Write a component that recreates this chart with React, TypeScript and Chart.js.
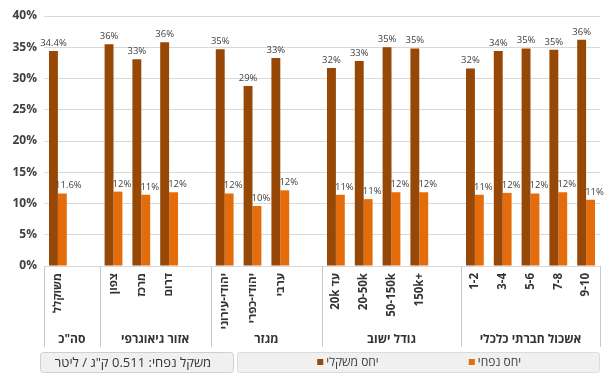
import React, { useEffect, useRef } from "react";
import { Chart, registerables } from "chart.js";

Chart.register(...registerables);

const categories = [
  "משוקלל", "",
  "צפון", "מרכז", "דרום", "",
  "יהודי-עירוני", "יהודי-כפרי", "ערבי", "",
  "20k עד", "20-50k", "50-150k", "150k+", "",
  "1-2", "3-4", "5-6", "7-8", "9-10",
];
const groupLabels = ['סה"כ', "אזור גיאוגרפי", "מגזר", "גודל ישוב", "אשכול חברתי כלכלי"];
const groupSizes = [2, 4, 4, 5, 5];

const seriesNames = ["יחס משקלי", "יחס נפחי"];
const weightRatio = [34.4, null, 35.5, 33.1, 35.8, null, 34.7, 28.8, 33.3, null, 31.7, 32.8, 35.0, 34.8, null, 31.6, 34.4, 34.8, 34.6, 36.2];
const volumeRatio = [11.6, null, 11.9, 11.4, 11.8, null, 11.6, 9.6, 12.1, null, 11.4, 10.7, 11.8, 11.8, null, 11.4, 11.7, 11.6, 11.8, 10.6];

const yMin = 0;
const yMax = 40;
const yStep = 5;
const noteText = 'משקל נפחי: 0.511 ק"ג / ליטר';

const DARK = "#974706";
const ORANGE = "#E46C0A";
const FONT = "'Open Sans', 'DejaVu Sans', sans-serif";

function roundRect(ctx: CanvasRenderingContext2D, x: number, y: number, w: number, h: number, r: number) {
  ctx.beginPath();
  ctx.moveTo(x + r, y);
  ctx.lineTo(x + w - r, y);
  ctx.quadraticCurveTo(x + w, y, x + w, y + r);
  ctx.lineTo(x + w, y + h - r);
  ctx.quadraticCurveTo(x + w, y + h, x + w - r, y + h);
  ctx.lineTo(x + r, y + h);
  ctx.quadraticCurveTo(x, y + h, x, y + h - r);
  ctx.lineTo(x, y + r);
  ctx.quadraticCurveTo(x, y, x + r, y);
  ctx.closePath();
}

const barLabels = {
  id: "barLabels",
  afterDatasetsDraw(chart: any) {
    const ctx = chart.ctx as CanvasRenderingContext2D;
    ctx.save();
    ctx.font = `9.5px ${FONT}`;
    ctx.fillStyle = "#404040";
    ctx.textAlign = "center";
    ctx.textBaseline = "bottom";
    chart.data.datasets.forEach((ds: any, di: number) => {
      const meta = chart.getDatasetMeta(di);
      meta.data.forEach((el: any, i: number) => {
        const v = ds.data[i];
        if (v == null) return;
        const txt = v.toFixed(i === 0 ? 1 : 0) + "%";
        const shift = di === 1 ? (i === 0 ? 6 : 4) : 0;
        ctx.fillText(txt, el.x + shift, el.y - 3);
      });
    });
    ctx.restore();
  },
};

const multiAxis = {
  id: "multiAxis",
  afterDraw(chart: any) {
    const ctx = chart.ctx as CanvasRenderingContext2D;
    const xs = chart.scales.x;
    const area = chart.chartArea;
    const step = xs.getPixelForValue(1) - xs.getPixelForValue(0);
    ctx.save();

    // category labels (rotated, reading bottom to top, anchored at the axis)
    ctx.font = `bold 11.5px ${FONT}`;
    ctx.fillStyle = "#333333";
    ctx.textAlign = "right";
    ctx.textBaseline = "middle";
    categories.forEach((c, i) => {
      if (!c) return;
      ctx.save();
      ctx.translate(xs.getPixelForValue(i), area.bottom + 7);
      ctx.rotate(-Math.PI / 2);
      ctx.fillText(c, 0, 0);
      ctx.restore();
    });

    // group separators and labels
    ctx.strokeStyle = "#c8c8c8";
    ctx.lineWidth = 1;
    ctx.font = `bold 12px ${FONT}`;
    ctx.textAlign = "center";
    let start = 0;
    const drawLine = (px: number) => {
      const xx = Math.round(px) + 0.5;
      ctx.beginPath();
      ctx.moveTo(xx, area.bottom);
      ctx.lineTo(xx, area.bottom + 81);
      ctx.stroke();
    };
    groupSizes.forEach((n, g) => {
      const left = xs.getPixelForValue(start) - step / 2;
      const right = xs.getPixelForValue(start + n - 1) + step / 2;
      drawLine(left);
      if (g === groupSizes.length - 1) drawLine(right);
      ctx.fillText(groupLabels[g], (left + right) / 2, area.bottom + 74);
      start += n;
    });

    // note box
    ctx.fillStyle = "#f0f0f0";
    ctx.strokeStyle = "#cfcfcf";
    roundRect(ctx, 40.5, 352.5, 193, 20, 3);
    ctx.fill();
    ctx.stroke();
    ctx.fillStyle = "#333333";
    ctx.font = `13px ${FONT}`;
    ctx.textAlign = "center";
    ctx.textBaseline = "middle";
    ctx.fillText(noteText, 133, 363);

    // legend box
    ctx.fillStyle = "#f0f0f0";
    ctx.strokeStyle = "#dcdcdc";
    roundRect(ctx, 237.5, 352.5, 362, 20, 2);
    ctx.fill();
    ctx.stroke();
    const centers = [348, 495];
    ctx.font = `12px ${FONT}`;
    ctx.textAlign = "left";
    chart.data.datasets.forEach((ds: any, i: number) => {
      const w = ctx.measureText(ds.label).width;
      const total = 6 + 3 + w;
      const x0 = centers[i] - total / 2;
      ctx.fillStyle = ds.backgroundColor;
      ctx.fillRect(x0, 359, 6, 6);
      ctx.fillStyle = "#404040";
      ctx.fillText(ds.label, x0 + 9, 362.5);
    });

    ctx.restore();
  },
};

export default function App() {
  const ref = useRef<HTMLCanvasElement>(null);
  useEffect(() => {
    if (!ref.current) return;
    const chart = new Chart(ref.current, {
      type: "bar",
      data: {
        labels: categories,
        datasets: [
          { label: seriesNames[0], data: weightRatio, backgroundColor: DARK, categoryPercentage: 0.64, barPercentage: 1.0 },
          { label: seriesNames[1], data: volumeRatio, backgroundColor: ORANGE, categoryPercentage: 0.64, barPercentage: 1.0 },
        ],
      },
      options: {
        animation: false,
        responsive: true,
        maintainAspectRatio: false,
        layout: { padding: { left: 0, right: 15, top: 16, bottom: 0 } },
        plugins: { legend: { display: false }, tooltip: { enabled: false } },
        scales: {
          x: {
            grid: { display: false },
            border: { display: false },
            ticks: { display: false },
            afterFit: (s: any) => { s.height = 117; },
          },
          y: {
            min: yMin,
            max: yMax,
            ticks: {
              stepSize: yStep,
              padding: 7,
              color: "#404040",
              font: { family: FONT, size: 12, weight: "bold" },
              callback: (v: any) => v + "%",
            },
            grid: { color: "#d9d9d9", drawTicks: false },
            border: { display: false },
            afterFit: (s: any) => { s.width = 44; },
          },
        },
      },
      plugins: [barLabels, multiAxis],
    });
    return () => chart.destroy();
  }, []);
  return (
    <div style={{ position: "fixed", left: 0, top: 0, width: 615, height: 383, background: "#fff" }}>
      <canvas ref={ref} />
    </div>
  );
}
